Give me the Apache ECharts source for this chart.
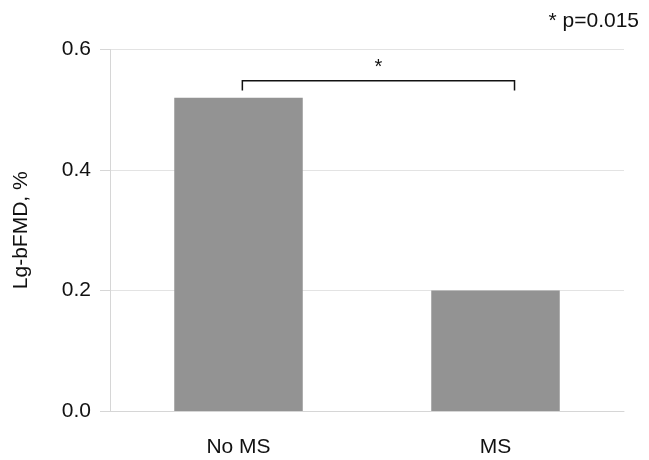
<!DOCTYPE html>
<html>
<head>
<meta charset="utf-8">
<script src="https://cdn.jsdelivr.net/npm/echarts@6/dist/echarts.min.js"></script>
<style>
  html, body { margin: 0; padding: 0; background: #fff; }
  #chart { width: 649px; height: 460px; }
</style>
</head>
<body>
<div id="chart"></div>
<script>
const categories = ['No MS', 'MS'];
const values = [0.52, 0.2];
const yTicks = [0, 0.2, 0.4, 0.6];
// significance bracket: [fromIndex, toIndex, level, dropTo, label]
const bracket = [0, 1, 0.548, 0.532, '*'];
const pNote = '* p=0.015';

const font = '"Liberation Sans", Arial, sans-serif';
const chart = echarts.init(document.getElementById('chart'));

chart.setOption({
  animation: false,
  textStyle: { fontFamily: font },
  grid: { left: 110, right: 25, top: 49.5, bottom: 49 },
  graphic: [{
    type: 'text',
    right: 10,
    top: 11,
    style: { text: pNote, font: '21px ' + font, fill: '#111' }
  }],
  xAxis: {
    type: 'category',
    data: categories,
    axisLine: { lineStyle: { color: '#d6d6d6', width: 1 } },
    axisTick: { alignWithLabel: true, length: 8, lineStyle: { color: '#d6d6d6' } },
    axisLabel: { color: '#111', fontSize: 21, margin: 26 }
  },
  yAxis: {
    type: 'value',
    min: yTicks[0],
    max: yTicks[yTicks.length - 1],
    interval: 0.2,
    name: 'Lg-bFMD, %',
    nameLocation: 'middle',
    nameGap: 78,
    nameTextStyle: { color: '#111', fontSize: 21 },
    axisLine: { show: true, lineStyle: { color: '#d6d6d6' } },
    axisTick: { show: true, length: 10, lineStyle: { color: '#d6d6d6' } },
    axisLabel: { color: '#111', fontSize: 21, margin: 19, formatter: v => v.toFixed(1) },
    splitLine: { lineStyle: { color: '#e3e3e3' } }
  },
  series: [
    {
      type: 'bar',
      data: values,
      barWidth: '50%',
      itemStyle: { color: '#939393' }
    },
    {
      type: 'custom',
      data: [bracket],
      z: 10,
      renderItem: function (params, api) {
        const band = api.size([1, 0])[0];
        const a = api.coord([bracket[0], bracket[2]]);
        const b = api.coord([bracket[1], bracket[2]]);
        const drop = api.coord([0, bracket[3]])[1];
        const x1 = a[0] + band * 0.015;
        const x2 = b[0] + band * 0.074;
        return {
          type: 'group',
          children: [
            {
              type: 'polyline',
              shape: { points: [[x1, drop], [x1, a[1]], [x2, a[1]], [x2, drop]] },
              style: { stroke: '#111', lineWidth: 1.5, fill: null }
            },
            {
              type: 'text',
              style: {
                text: bracket[4], x: (x1 + x2) / 2, y: a[1] - 3,
                align: 'center', verticalAlign: 'bottom',
                font: '20px ' + font, fill: '#111'
              }
            }
          ]
        };
      }
    }
  ]
});
</script>
</body>
</html>
